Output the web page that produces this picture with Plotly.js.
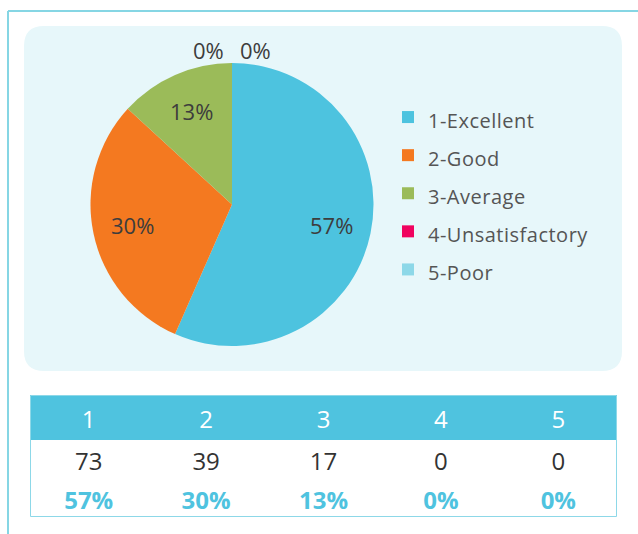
<!DOCTYPE html>
<html><head><meta charset="utf-8">
<script src="https://cdn.plot.ly/plotly-3.0.1.min.js"></script>
<style>html,body{margin:0;padding:0;background:#fff;}#chart{width:638px;height:534px;}</style>
</head><body><div id="chart"></div>
<script>
// ---- data ----
const categories = ['1-Excellent', '2-Good', '3-Average', '4-Unsatisfactory', '5-Poor'];
const ratingNumbers = ['1', '2', '3', '4', '5'];
const counts = [73, 39, 17, 0, 0];
const sliceColors = ['#4dc3df', '#f47920', '#9bbb59', '#f0035f', '#8dd8e8'];

// ---- helpers ----
const W = 638, H = 534;
const px = x => x / W;
const py = y => 1 - y / H;
const total = counts.reduce((a, b) => a + b, 0);
const pctVals = counts.map(c => Math.round(c / total * 100));
const FONT = 'Open Sans, Lato, sans-serif';

function roundRectPath(x0, y0, x1, y1, r) {
  const P = (x, y) => px(x).toFixed(5) + ',' + py(y).toFixed(5);
  return 'M' + P(x0 + r, y0) + ' L' + P(x1 - r, y0) + ' Q' + P(x1, y0) + ' ' + P(x1, y0 + r) +
    ' L' + P(x1, y1 - r) + ' Q' + P(x1, y1) + ' ' + P(x1 - r, y1) +
    ' L' + P(x0 + r, y1) + ' Q' + P(x0, y1) + ' ' + P(x0, y1 - r) +
    ' L' + P(x0, y0 + r) + ' Q' + P(x0, y0) + ' ' + P(x0 + r, y0) + ' Z';
}

// pie geometry (pixels)
const cx = 232, cy = 204.5, R = 141.5;

const pie = {
  type: 'pie',
  labels: categories.map(c => '<span style="font-size:20px;letter-spacing:0.5px">' + c + '</span>'),
  values: counts,
  sort: false,
  direction: 'clockwise',
  rotation: 0,
  marker: { colors: sliceColors, line: { width: 0 } },
  textinfo: 'none',
  textposition: 'none',
  domain: { x: [px(cx - R), px(cx + R)], y: [py(cy + R), py(cy - R)] },
  hoverinfo: 'label+value+percent',
  showlegend: true
};

// slice percentage labels placed along each slice's mid-angle
const annotations = [];
let cum = 0;
const zeroIdx = counts.map((c, i) => c === 0 ? i : -1).filter(i => i >= 0);
counts.forEach((c, i) => {
  const a0 = cum / total * 2 * Math.PI;
  cum += c;
  const a1 = cum / total * 2 * Math.PI;
  const mid = (a0 + a1) / 2;
  let rr = 0.72 * R, dx = 0;
  if (c === 0) {
    rr = 1.09 * R;
    const k = zeroIdx.indexOf(i);
    dx = (k - (zeroIdx.length - 1) / 2) * 48;
  }
  annotations.push({
    xref: 'paper', yref: 'paper',
    x: px(cx + rr * Math.sin(mid) + dx), y: py(cy - rr * Math.cos(mid)),
    xanchor: 'center', yanchor: 'middle', showarrow: false,
    text: pctVals[i] + '%',
    font: { family: FONT, size: 22, color: '#3d3d3d' }
  });
});

const noFill = { color: 'rgba(0,0,0,0)' };
const noLine = { color: 'rgba(0,0,0,0)', width: 0 };

// table: rating numbers (header) + counts row
const tableCounts = {
  type: 'table',
  domain: { x: [px(30), px(617)], y: [py(534), py(402)] },
  header: {
    values: ratingNumbers,
    align: 'center', height: 42, fill: noFill, line: noLine,
    font: { family: FONT, size: 24, color: '#ffffff' }
  },
  cells: {
    values: counts.map(c => [String(c)]),
    align: 'center', height: 38, fill: noFill, line: noLine,
    font: { family: FONT, size: 24, color: '#333333' }
  }
};

// table: percentage row
const tablePct = {
  type: 'table',
  domain: { x: [px(30), px(617)], y: [py(534), py(459)] },
  header: { values: [], height: 0, fill: noFill, line: noLine },
  cells: {
    values: pctVals.map(p => ['<b>' + p + '%</b>']),
    align: 'center', height: 38, fill: noFill, line: noLine,
    font: { family: FONT, size: 24, color: '#4fc3df' }
  }
};

const layout = {
  width: W, height: H,
  margin: { l: 0, r: 0, t: 0, b: 0 },
  paper_bgcolor: '#ffffff',
  plot_bgcolor: 'rgba(0,0,0,0)',
  font: { family: FONT, color: '#555555' },
  showlegend: true,
  legend: {
    x: px(388), xanchor: 'left',
    y: py(193.5), yanchor: 'middle',
    bgcolor: 'rgba(0,0,0,0)',
    font: { family: FONT, size: 27, color: '#555555' },
    traceorder: 'normal'
  },
  annotations: annotations,
  shapes: [
    { type: 'path', xref: 'paper', yref: 'paper', layer: 'below',
      path: roundRectPath(24, 26, 622, 371, 20),
      fillcolor: '#e7f7fa', line: { width: 0 } },
    { type: 'line', xref: 'paper', yref: 'paper', x0: px(8), x1: px(638), y0: py(11), y1: py(11),
      line: { color: '#86d6e4', width: 2 } },
    { type: 'line', xref: 'paper', yref: 'paper', x0: px(8), x1: px(8), y0: py(11), y1: py(534),
      line: { color: '#86d6e4', width: 2 } },
    { type: 'rect', xref: 'paper', yref: 'paper', layer: 'below',
      x0: px(30), x1: px(617), y0: py(440), y1: py(395),
      line: { width: 0 }, fillcolor: '#4fc3df' },
    { type: 'rect', xref: 'paper', yref: 'paper', layer: 'above',
      x0: px(30.5), x1: px(616.5), y0: py(516.5), y1: py(395.5),
      line: { color: '#8dd8e8', width: 1 }, fillcolor: 'rgba(0,0,0,0)' }
  ]
};

Plotly.newPlot('chart', [pie, tableCounts, tablePct], layout, { displayModeBar: false, staticPlot: true });
</script>
</body></html>
